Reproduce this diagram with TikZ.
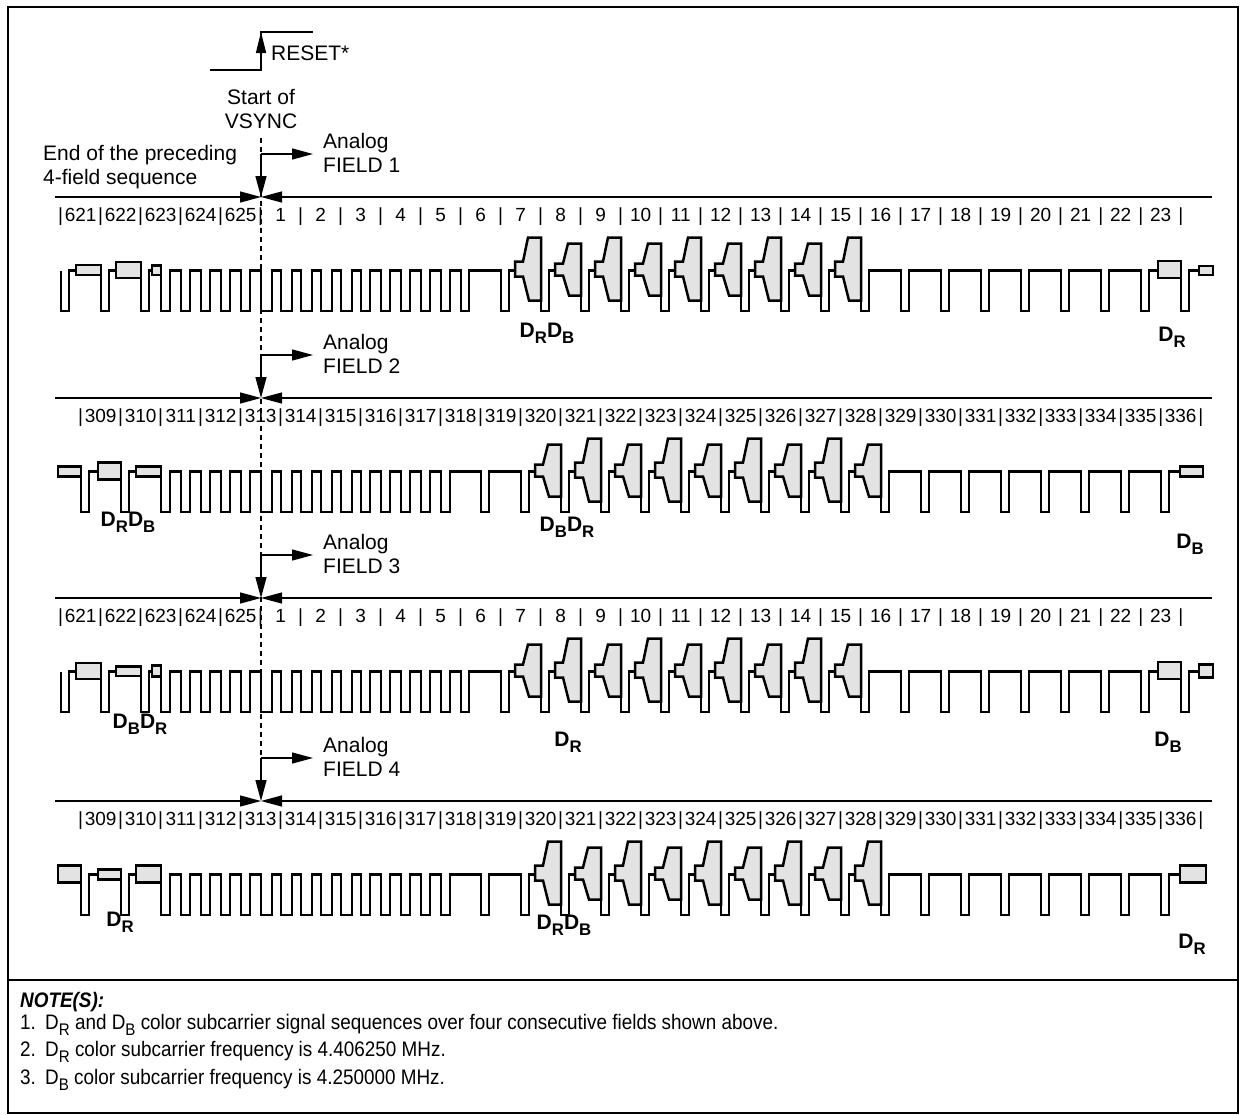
\documentclass[tikz,border=0pt]{standalone}
\usepackage{fontspec}
\setmainfont{Liberation Sans}
\newfontfamily\notefont[FakeStretch=0.9]{Liberation Sans}
\usetikzlibrary{arrows.meta}

\newcommand\dsub[1]{D\raisebox{-0.3em}{\scalebox{0.8}{#1}}}

\tikzset{
  wave/.style={line width=2.5pt, line join=miter},
  burst/.style={wave, fill=black!11},
  thinline/.style={line width=1.3pt},
  fieldarrow/.style={thinline, -{Triangle[length=21pt,width=11pt]}},
  txt/.style={font=\fontsize{21}{24}\selectfont, inner sep=0pt, align=left},
  num/.style={font=\fontsize{19}{20}\selectfont, inner sep=0pt, anchor=base},
  dlabel/.style={font=\bfseries\fontsize{21}{22}\selectfont, inner sep=0pt},
  notetxt/.style={font=\notefont\fontsize{21}{24}\selectfont, inner sep=0pt, anchor=base west},
}

% waveform of one field: #1 rule y, #2 start x, #3 leading syncs, #4 trailing syncs, #5 end x
\newcommand\fieldwave[5]{%
  \pgfmathsetmacro\hi{#1+73.5}%
  \pgfmathsetmacro\lo{#1+114}%
  \draw[wave] (#2,\hi)
    \foreach \x in {#3} {-- (\x,\hi) -- (\x,\lo) -- (\x+8,\lo) -- (\x+8,\hi)}
    \foreach \x in {161,181,...,241} {-- (\x,\hi) -- (\x,\lo) -- (\x+9,\lo) -- (\x+9,\hi)}
    \foreach \x in {261,281,...,341} {-- (\x,\hi) -- (\x,\lo) -- (\x+11,\lo) -- (\x+11,\hi)}
    \foreach \x in {361,381,...,441} {-- (\x,\hi) -- (\x,\lo) -- (\x+9,\lo) -- (\x+9,\hi)}
    \foreach \x in {#4} {-- (\x,\hi) -- (\x,\lo) -- (\x+8,\lo) -- (\x+8,\hi)}
    -- (#5,\hi);}
\newcommand\burstbox[4]{\draw[burst] (#1,\hi+#3) rectangle (#2,\hi-#4);}
\newcommand\tallbottle[1]{\draw[burst] (#1+14,\hi-9) -- (#1+22,\hi-9) -- (#1+27,\hi-33)
  -- (#1+40,\hi-33) -- (#1+40,\hi+30) -- (#1+28,\hi+30) -- (#1+22,\hi+6) -- (#1+14,\hi+6) -- cycle;}
\newcommand\shortbottle[1]{\draw[burst] (#1+14,\hi-7) -- (#1+22,\hi-7) -- (#1+27,\hi-27)
  -- (#1+40,\hi-27) -- (#1+40,\hi+25) -- (#1+28,\hi+25) -- (#1+22,\hi+5) -- (#1+14,\hi+5) -- cycle;}
% line numbers: #1 name, #2 rule y, #3 first bar x, #4 label formula in \k
\newcommand\numrow[4]{%
  \foreach \k in {0,...,27}{
    \pgfmathtruncatemacro\lbl{#4}
    \node[num] (#1b\k) at (#3+40*\k,#2+24) {|};
    \node[num] (#1n\k) at (#3+20+40*\k,#2+24) {\lbl};}
  \node[num] (#1b28) at (#3+1120,#2+24) {|};}

\begin{document}
\begin{tikzpicture}[x=1pt,y=-1pt]
\useasboundingbox (0,0) rectangle (1246,1114);
\draw[thinline] (8,7) rectangle (1238,1113);
\draw[thinline] (8,980) -- (1238,980);

% RESET* step
\coordinate (rlow) at (210,70);
\coordinate (rup) at (261,70);
\coordinate (rtop) at (261,32);
\coordinate (rhigh) at (313,32);
\draw[thinline] (rlow) -- (rup) -- (rtop) -- (rhigh);
\draw[thinline, -{Triangle[length=21pt,width=10pt]}] (rup) -- (rtop);
\node[txt, anchor=west] (reset) at (271,53) {RESET*};
\node[txt, align=center] (vsync) at (261,109) {Start of\\VSYNC};
\node[txt, anchor=west] (prevseq) at (43,167) {End of the preceding\\4-field sequence};

% field markers
\foreach \f/\Y in {1/197,2/398,3/598,4/801}{
  \coordinate (mid\f) at (261,\Y);
  \coordinate (lend\f) at (55,\Y);
  \coordinate (rend\f) at (1212,\Y);
  \coordinate (fork\f) at (261,\Y-43);
  \coordinate (tip\f) at (313,\Y-43);
  \draw[fieldarrow] (lend\f) -- (mid\f);
  \draw[fieldarrow] (rend\f) -- (mid\f);
  \draw[fieldarrow] (fork\f) -- (mid\f);
  \draw[fieldarrow] (fork\f) -- (tip\f);
  \node[txt, anchor=west] (analog\f) at (323,\Y-44) {Analog\\FIELD \f};
}
\coordinate (dtop) at (261,138);
\draw[thinline, dash pattern=on 5pt off 4pt] (dtop) -- (fork4);

% line numbers
\numrow{fa}{197}{60.7}{\k<5 ? 621+\k : \k-4}
\numrow{fb}{398}{80.7}{309+\k}
\numrow{fc}{598}{60.7}{\k<5 ? 621+\k : \k-4}
\numrow{fd}{801}{80.7}{309+\k}

% field 1
\fieldwave{197}{61}{61,101,141}{461,501,...,1181}{1213}
\burstbox{76}{101}{-5.5}{-4.5}
\burstbox{116}{141}{-8.5}{-7.5}
\burstbox{152}{161}{-5}{-4.5}
\burstbox{1158}{1181}{-9.5}{-7.5}
\burstbox{1199}{1213}{-4.5}{-4.5}
\foreach \L in {501,581,...,821} {\tallbottle{\L}}
\foreach \L in {541,621,...,781} {\shortbottle{\L}}
\node[dlabel] (dl1a) at (547,333) {\dsub{R}\dsub{B}};
\node[dlabel] (dl1b) at (1172,337) {\dsub{R}};

% field 2
\fieldwave{398}{58}{81,121}{481,521,...,1161}{1203}
\burstbox{58}{81}{-5}{-5}
\burstbox{98}{121}{-9}{-8}
\burstbox{136}{161}{-5}{-5}
\burstbox{1180}{1203}{-5}{-5}
\foreach \L in {521,601,...,841} {\shortbottle{\L}}
\foreach \L in {561,641,...,801} {\tallbottle{\L}}
\node[dlabel] (dl2a) at (128,522) {\dsub{R}\dsub{B}};
\node[dlabel] (dl2b) at (567,527) {\dsub{B}\dsub{R}};
\node[dlabel] (dl2c) at (1190,544) {\dsub{B}};

% field 3
\fieldwave{598}{61}{61,101,141}{461,501,...,1181}{1213}
\burstbox{76}{101}{-8.5}{-7.5}
\burstbox{116}{141}{-5}{-4.5}
\burstbox{152}{161}{-6}{-5}
\burstbox{1158}{1181}{-9.5}{-7.5}
\burstbox{1199}{1213}{-7}{-6}
\foreach \L in {501,581,...,821} {\shortbottle{\L}}
\foreach \L in {541,621,...,781} {\tallbottle{\L}}
\node[dlabel] (dl3a) at (140,724) {\dsub{B}\dsub{R}};
\node[dlabel] (dl3b) at (568,742) {\dsub{R}};
\node[dlabel] (dl3c) at (1168,742) {\dsub{B}};

% field 4
\fieldwave{801}{58}{81,121}{481,521,...,1161}{1206}
\burstbox{58}{81}{-9}{-8}
\burstbox{98}{121}{-5}{-5}
\burstbox{136}{161}{-9}{-8}
\burstbox{1180}{1206}{-9}{-8}
\foreach \L in {521,601,...,841} {\tallbottle{\L}}
\foreach \L in {561,641,...,801} {\shortbottle{\L}}
\node[dlabel] (dl4a) at (120,922) {\dsub{R}};
\node[dlabel] (dl4b) at (564,925) {\dsub{R}\dsub{B}};
\node[dlabel] (dl4c) at (1192,944) {\dsub{R}};

% notes
\node[notetxt, font=\notefont\bfseries\itshape\fontsize{21}{24}\selectfont] (notehead) at (20,1007) {NOTE(S):};
\node[notetxt] (num1) at (20,1029) {1.};
\node[notetxt] (note1) at (45,1029) {\dsub{R} and \dsub{B} color subcarrier signal sequences over four consecutive fields shown above.};
\node[notetxt] (num2) at (20,1056) {2.};
\node[notetxt] (note2) at (45,1056) {\dsub{R} color subcarrier frequency is 4.406250 MHz.};
\node[notetxt] (num3) at (20,1084) {3.};
\node[notetxt] (note3) at (45,1084) {\dsub{B} color subcarrier frequency is 4.250000 MHz.};
\end{tikzpicture}
\end{document}
